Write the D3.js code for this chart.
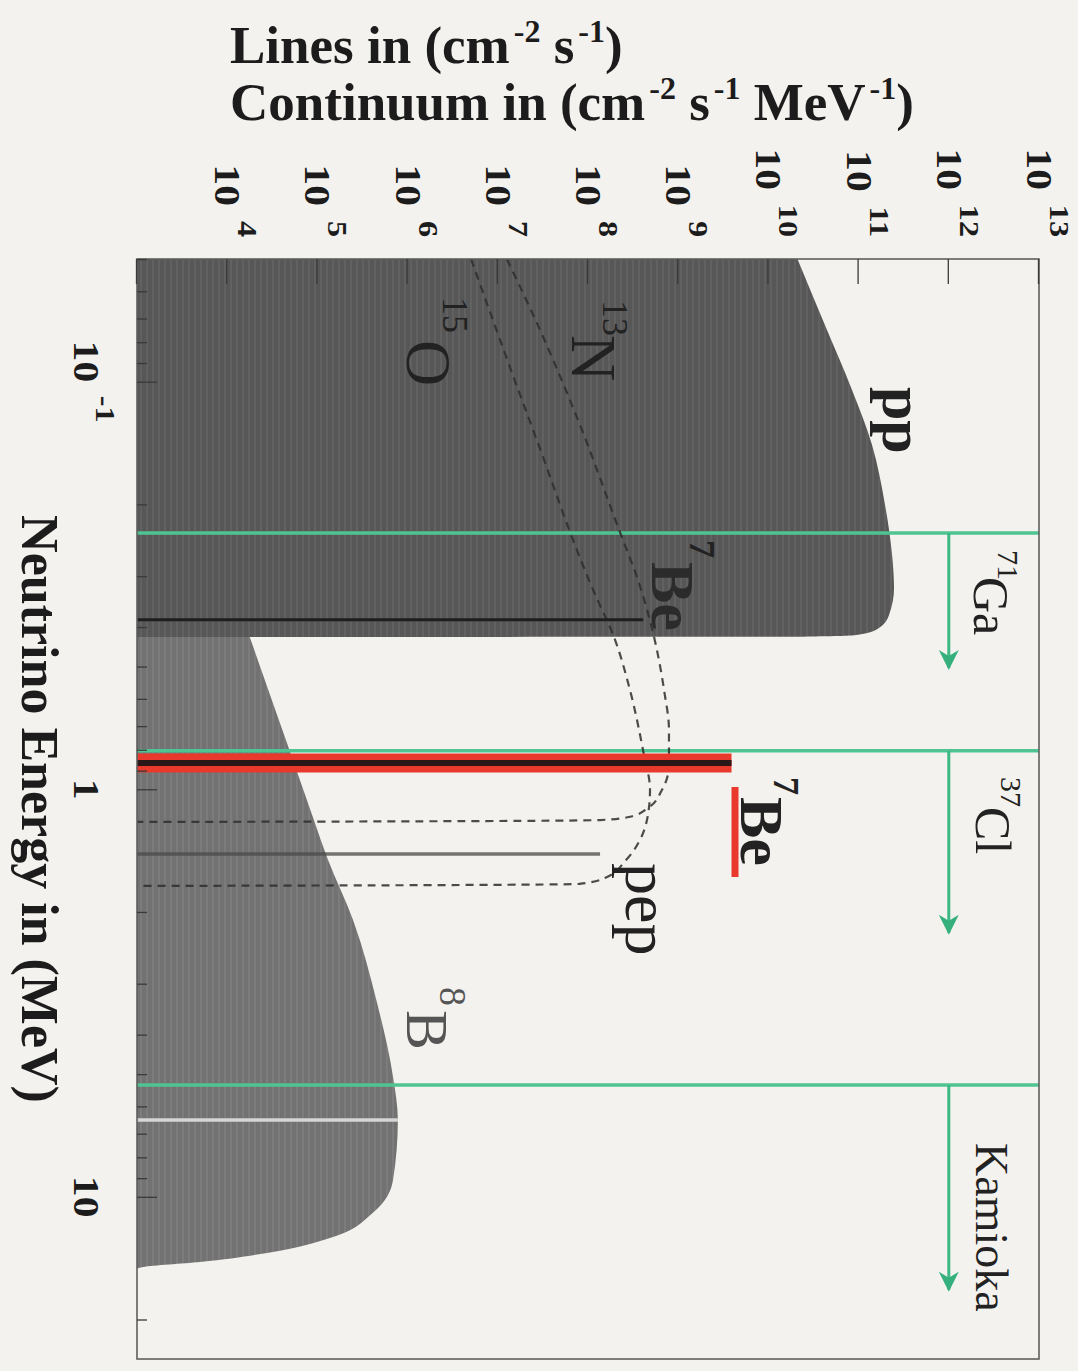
<!DOCTYPE html>
<html>
<head>
<meta charset="utf-8">
<script src="https://cdn.jsdelivr.net/npm/d3@7"></script>
<style>
  html, body { margin: 0; padding: 0; background: #f4f2ee; }
  svg { display: block; }
</style>
</head>
<body>
<svg id="chart" width="1078" height="1371"></svg>
<script>
// Solar neutrino spectrum, drawn turned a quarter turn clockwise:
// neutrino energy runs down the page, flux runs to the right.

// ---- axes ----
const energyDomain = [0.05, 25];          // MeV
const fluxDomain = [1e3, 1e13];
const fluxTickExponents = [4, 5, 6, 7, 8, 9, 10, 11, 12, 13];
const energyTickValues = [0.1, 1, 10];
const energyTickBase = ["10", "1", "10"];
const energyTickExp = ["-1", "", ""];

// ---- continuum spectra (MeV, cm^-2 s^-1 MeV^-1) ----
const ppE = [0.05, 0.075, 0.103, 0.143, 0.20, 0.266, 0.321, 0.374, 0.405, 0.419, 0.4225, 0.423];
const ppF = [2.1e10, 4.5e10, 8.2e10, 1.41e11, 1.96e11, 2.35e11, 2.47e11, 2.17e11, 1.6e11, 9e10, 2e10, 1e3];

const b8E = [0.079, 0.1, 0.165, 0.425, 0.77, 1.17, 1.49, 2.09, 3.34, 5.08, 6.48, 9.09, 10.95, 12.54, 13.73, 14.45, 14.86, 15.0];
const b8F = [1e3, 1.8e3, 4e3, 1.79e4, 4.6e4, 8.9e4, 1.31e5, 2.48e5, 4.58e5, 6.9e5, 7.8e5, 6.9e5, 4.1e5, 1.49e5, 2.76e4, 5e3, 1.17e3, 1e3];
const b8GapE = 6.48;

const n13E = [0.05, 0.0747, 0.1277, 0.231, 0.3066, 0.423, 0.571, 0.715, 0.872, 1.004, 1.112, 1.168, 1.19, 1.199, 1.203];
const n13F = [1.26e7, 2.94e7, 8.15e7, 2.21e8, 3.58e8, 5.4e8, 6.97e8, 7.9e8, 7.9e8, 6.6e8, 4.62e8, 2.92e8, 1.36e8, 8.2e5, 1e3];

const o15E = [0.05, 0.092, 0.153, 0.2445, 0.3243, 0.423, 0.571, 0.801, 1.004, 1.156, 1.331, 1.491, 1.651, 1.707, 1.72, 1.727];
const o15F = [5.05e6, 1.36e7, 3.17e7, 6.82e7, 1.14e8, 1.94e8, 2.92e8, 4.07e8, 4.87e8, 4.62e8, 3.77e8, 2.64e8, 1.54e8, 8.1e7, 8.2e5, 1e3];

// ---- line sources (MeV, cm^-2 s^-1) ----
const lineNames = ["7Be (0.38)", "7Be (0.86)", "pep"];
const lineE = [0.384, 0.862, 1.442];
const lineF = [4.1e8, 3.9e9, 1.36e8];

// ---- detector thresholds (MeV) ----
const detNames = ["71Ga", "37Cl", "Kamioka"];
const detThreshold = [0.235, 0.805, 5.32];
const detArrowEnd = [0.504, 2.25, 16.9];
const detArrowFlux = 1e12;

// ------------------------------------------------------------------
const W = 1078;
const serif = "'Liberation Serif', 'Times New Roman', Times, serif";
const svg = d3.select("#chart");

svg.append("rect").attr("width", W).attr("height", 1371).attr("fill", "#f4f2ee");

const defs = svg.append("defs");

// scan-like streaks in the filled areas
function stripes(id, base, streak) {
  const p = defs.append("pattern").attr("id", id)
    .attr("patternUnits", "userSpaceOnUse").attr("width", 20).attr("height", 6);
  p.append("rect").attr("width", 20).attr("height", 6).attr("fill", base);
  p.append("rect").attr("y", 0).attr("width", 20).attr("height", 2).attr("fill", streak);
}
stripes("ppFill", "#575757", "#616161");
stripes("b8Fill", "#727272", "#7c7c7c");

const green = "#4fc492";
defs.append("marker").attr("id", "arrow")
  .attr("viewBox", "0 0 20 20").attr("refX", 18).attr("refY", 10)
  .attr("markerUnits", "userSpaceOnUse").attr("markerWidth", 20).attr("markerHeight", 22)
  .attr("orient", "auto")
  .append("path").attr("d", "M0,0 L20,10 L0,20 L6,10 Z").attr("fill", "#35b07c");

// plot group in the unturned frame: x = energy, y = flux
const g = svg.append("g").attr("transform", `translate(${W},0) rotate(90)`);

const x = d3.scaleLog().domain(energyDomain).range([259, 1359]);
const y = d3.scaleLog().domain(fluxDomain).range([941, 39]);

defs.append("clipPath").attr("id", "plotClip")
  .append("rect").attr("x", 259).attr("y", 39).attr("width", 1100).attr("height", 902);

const plot = g.append("g").attr("clip-path", "url(#plotClip)");

const zip = (E, F) => E.map((e, i) => ({ e, f: F[i] }));

const area = d3.area()
  .x(d => x(d.e)).y0(y(fluxDomain[0])).y1(d => y(d.f))
  .curve(d3.curveMonotoneX);
const line = d3.line()
  .x(d => x(d.e)).y(d => y(d.f))
  .curve(d3.curveMonotoneX);

// 8B continuum
plot.append("path").datum(zip(b8E, b8F)).attr("d", area).attr("fill", "url(#b8Fill)");
// pp continuum
plot.append("path").datum(zip(ppE, ppF)).attr("d", area).attr("fill", "url(#ppFill)");

// light streak across the 8B maximum
plot.append("line")
  .attr("x1", x(b8GapE)).attr("x2", x(b8GapE))
  .attr("y1", y(fluxDomain[0])).attr("y2", y(b8F[b8E.indexOf(b8GapE)]))
  .attr("stroke", "#d6d6d6").attr("stroke-width", 3.5);

// detector thresholds
plot.selectAll(".thr").data(detThreshold).join("line")
  .attr("x1", d => x(d)).attr("x2", d => x(d))
  .attr("y1", y(fluxDomain[0])).attr("y2", y(fluxDomain[1]))
  .attr("stroke", green).attr("stroke-width", 3.5);

// CNO continua
[zip(n13E, n13F), zip(o15E, o15F)].forEach(s => {
  plot.append("path").datum(s).attr("d", line)
    .attr("fill", "none").attr("stroke", "#2e2e2e").attr("stroke-opacity", 0.85)
    .attr("stroke-width", 2.2).attr("stroke-dasharray", "8,6");
});

// line sources
// 7Be 0.38 MeV
plot.append("line")
  .attr("x1", x(lineE[0])).attr("x2", x(lineE[0]))
  .attr("y1", y(fluxDomain[0])).attr("y2", y(lineF[0]))
  .attr("stroke", "#1e1e1e").attr("stroke-width", 3);
// pep
plot.append("line")
  .attr("x1", x(lineE[2])).attr("x2", x(lineE[2]))
  .attr("y1", y(fluxDomain[0])).attr("y2", y(lineF[2]))
  .attr("stroke", "#4a4a4a").attr("stroke-opacity", 0.75).attr("stroke-width", 3.5);
// 7Be 0.86 MeV, highlighted in red
plot.append("line")
  .attr("x1", x(lineE[1])).attr("x2", x(lineE[1]))
  .attr("y1", y(fluxDomain[0])).attr("y2", y(lineF[1]))
  .attr("stroke", "#e8392c").attr("stroke-width", 19);
plot.append("line")
  .attr("x1", x(lineE[1])).attr("x2", x(lineE[1]))
  .attr("y1", y(fluxDomain[0])).attr("y2", y(lineF[1]))
  .attr("stroke", "#2a1717").attr("stroke-width", 6);

// threshold arrows
plot.selectAll(".arr").data(detThreshold).join("line")
  .attr("x1", d => x(d)).attr("x2", (d, i) => x(detArrowEnd[i]))
  .attr("y1", y(detArrowFlux)).attr("y2", y(detArrowFlux))
  .attr("stroke", "#3cb883").attr("stroke-width", 3)
  .attr("marker-end", "url(#arrow)");

// frame
g.append("rect").attr("x", 259).attr("y", 39).attr("width", 1100).attr("height", 902)
  .attr("fill", "none").attr("stroke", "#5e5e5e").attr("stroke-width", 1.6);

// ticks (pointing into the plot)
const majorE = energyTickValues;
const minorE = x.ticks().filter(v => !majorE.some(m => Math.abs(m - v) < 1e-9));
const axE1 = g.append("g").attr("transform", "translate(0,941)")
  .call(d3.axisBottom(x).tickValues(majorE).tickSize(-20).tickFormat(""));
const axE2 = g.append("g").attr("transform", "translate(0,941)")
  .call(d3.axisBottom(x).tickValues(minorE).tickSize(-10).tickFormat(""));
const majorF = d3.range(3, 14).map(k => Math.pow(10, k));
const minorF = y.ticks().filter(v => !majorF.some(m => Math.abs(m - v) / m < 1e-9));
const axF1 = g.append("g").attr("transform", "translate(259,0)")
  .call(d3.axisLeft(y).tickValues(majorF).tickSize(-25).tickFormat(""));
const axF2 = g.append("g").attr("transform", "translate(259,0)")
  .call(d3.axisLeft(y).tickValues(minorF).tickSize(-12).tickFormat(""));
[axE1, axE2, axF1, axF2].forEach(a => {
  a.select(".domain").remove();
  a.selectAll("line").attr("stroke", "#3a3a3a").attr("stroke-width", 1.3);
});

// tick labels
fluxTickExponents.forEach(k => {
  const t = g.append("text")
    .attr("transform", `translate(237,${y(Math.pow(10, k)) + 12}) scale(1.15,1)`)
    .attr("font-family", serif).attr("font-weight", "bold").attr("font-size", 36)
    .attr("text-anchor", "end").attr("fill", "#1c1c1c");
  t.append("tspan").text("10");
  t.append("tspan").attr("dx", 13).attr("dy", -23).attr("font-size", 28).text(String(k));
});
energyTickValues.forEach((v, i) => {
  const t = g.append("text")
    .attr("transform", `translate(${x(v)},1004) scale(1.15,1)`)
    .attr("font-family", serif).attr("font-weight", "bold").attr("font-size", 36)
    .attr("text-anchor", "middle").attr("fill", "#1c1c1c");
  t.append("tspan").text(energyTickBase[i]);
  if (energyTickExp[i]) {
    t.append("tspan").attr("dx", 12).attr("dy", -22).attr("font-size", 28).text(energyTickExp[i]);
  }
});

// axis title along the energy axis
g.append("text").attr("x", 809).attr("y", 1056)
  .attr("font-family", serif).attr("font-weight", "bold").attr("font-size", 52)
  .attr("text-anchor", "middle").attr("fill", "#1c1c1c")
  .text("Neutrino Energy in (MeV)");

// source and detector labels (group frame)
const labels = [
  { t: "pp", x: 387, y: 195, size: 60, bold: true },
  { t: "15", x: 297, y: 635, size: 36 },
  { t: "O", x: 340, y: 671, size: 64 },
  { t: "13", x: 300, y: 475, size: 36 },
  { t: "N", x: 335, y: 506, size: 64 },
  { t: "7", x: 540, y: 388, size: 36, bold: true },
  { t: "Be", x: 562, y: 426, size: 62, bold: true, fill: "#2b2b2b" },
  { t: "7", x: 777, y: 304, size: 36, bold: true },
  { t: "Be", x: 797, y: 337, size: 62, bold: true },
  { t: "pep", x: 863, y: 452, size: 64 },
  { t: "8", x: 987, y: 638, size: 38, fill: "#555" },
  { t: "B", x: 1010, y: 671, size: 60, fill: "#555" },
  { t: "71", x: 550, y: 80, size: 30 },
  { t: "Ga", x: 577, y: 104, size: 50 },
  { t: "37", x: 777, y: 77, size: 30 },
  { t: "Cl", x: 807, y: 102, size: 50 },
  { t: "Kamioka", x: 1143, y: 102, size: 46 }
];
g.selectAll(".lab").data(labels).join("text")
  .attr("x", d => d.x).attr("y", d => d.y)
  .attr("font-family", serif)
  .attr("font-size", d => d.size)
  .attr("font-weight", d => d.bold ? "bold" : "normal")
  .attr("fill", d => d.fill || "#222")
  .text(d => d.t);

// red underline beneath the 7Be line label
g.append("line").attr("x1", 787).attr("x2", 877).attr("y1", 343).attr("y2", 343)
  .attr("stroke", "#e8392c").attr("stroke-width", 7);

// flux unit titles (upright)
function unitTitle(yPos, parts) {
  const t = svg.append("text").attr("x", 230).attr("y", yPos)
    .attr("font-family", serif).attr("font-weight", "bold").attr("font-size", 53)
    .attr("fill", "#1c1c1c");
  let raised = false;
  parts.forEach(p => {
    const sp = t.append("tspan").text(p.s);
    if (p.sup && !raised) { sp.attr("dy", -21).attr("dx", 4); raised = true; }
    else if (!p.sup && raised) { sp.attr("dy", 21); raised = false; }
    if (p.sup) sp.attr("font-size", 32);
  });
}
unitTitle(63, [{ s: "Lines in (cm" }, { s: "-2", sup: true }, { s: " s" }, { s: "-1", sup: true }, { s: ")" }]);
unitTitle(120, [{ s: "Continuum in (cm" }, { s: "-2", sup: true }, { s: " s" }, { s: "-1", sup: true },
  { s: " MeV" }, { s: "-1", sup: true }, { s: ")" }]);
</script>
</body>
</html>
